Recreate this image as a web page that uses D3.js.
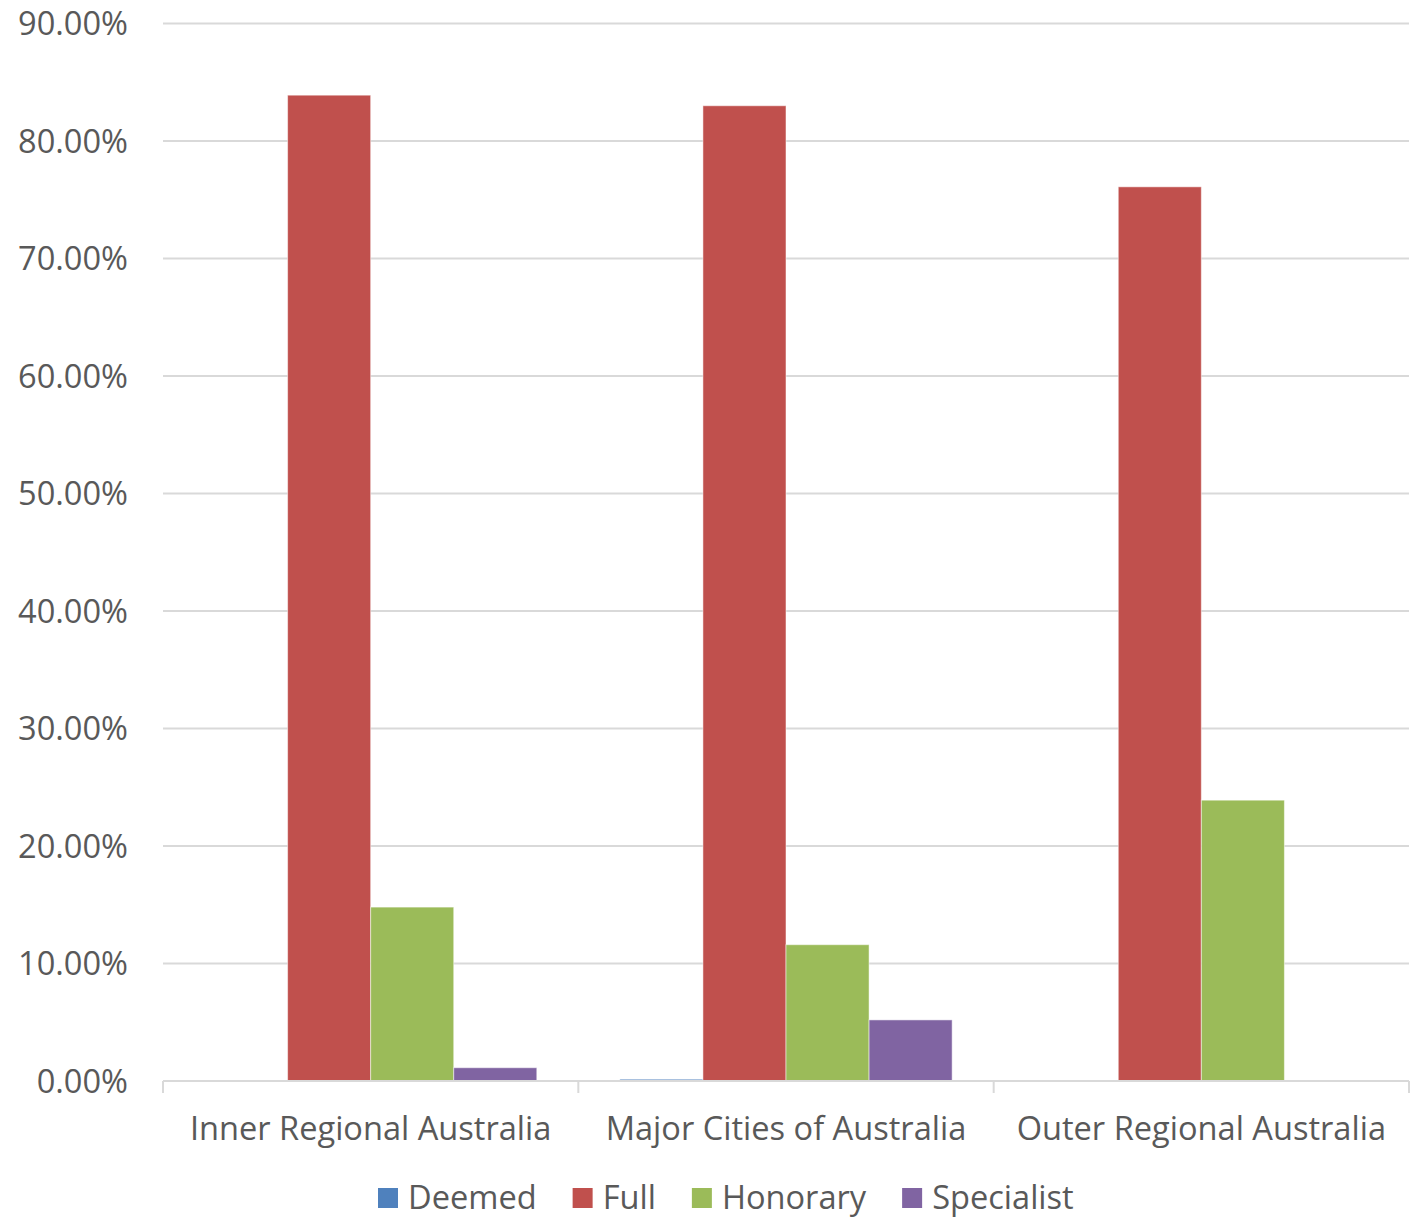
<!DOCTYPE html>
<html>
<head>
<meta charset="utf-8">
<script src="https://cdn.jsdelivr.net/npm/d3@7"></script>
<style>
  body { margin: 0; background: #fff; }
  svg { display: block; }
  text { font-family: "Open Sans", "Noto Sans", sans-serif; fill: #595959; }
</style>
</head>
<body>
<svg id="chart" width="1419" height="1218"></svg>
<script>
const categories = ["Inner Regional Australia", "Major Cities of Australia", "Outer Regional Australia"];
const seriesNames = ["Deemed", "Full", "Honorary", "Specialist"];
const seriesColors = ["#4f81bd", "#c0504d", "#9bbb59", "#8064a2"];
// share of each registration type per region (fraction)
const deemed     = [0,      0.0015, 0];
const full       = [0.839,  0.830,  0.761];
const honorary   = [0.148,  0.116,  0.239];
const specialist = [0.0113, 0.052,  0];
const yTicks = [0, 0.1, 0.2, 0.3, 0.4, 0.5, 0.6, 0.7, 0.8, 0.9];

const seriesValues = [deemed, full, honorary, specialist];
const fontSize = 32.6;

const svg = d3.select("#chart");
const plot = { left: 163, right: 1409, top: 23.5, bottom: 1081 };

const y = d3.scaleLinear().domain([0, 0.9]).range([plot.bottom, plot.top]);
const x0 = d3.scaleBand().domain(categories).range([plot.left, plot.right]).paddingInner(0).paddingOuter(0);
const x1 = d3.scaleBand().domain(seriesNames)
  .range([x0.bandwidth() * 0.1, x0.bandwidth() * 0.9]).padding(0);

// gridlines
svg.append("g").selectAll("line").data(yTicks.slice(1)).join("line")
  .attr("x1", plot.left).attr("x2", plot.right)
  .attr("y1", d => y(d)).attr("y2", d => y(d))
  .attr("stroke", "#d9d9d9").attr("stroke-width", 2);

// y axis labels
const yAxis = d3.axisLeft(y).tickValues(yTicks).tickFormat(d3.format(".2%")).tickSize(0).tickPadding(0);
const yg = svg.append("g").attr("transform", `translate(128,0)`).call(yAxis);
yg.select(".domain").remove();
yg.selectAll("text").attr("font-size", fontSize).attr("fill", "#595959")
  .style("font-family", '"Open Sans", sans-serif').attr("dy", "0.35em");

// bars
const rows = categories.map((c, i) => ({ cat: c, vals: seriesNames.map((s, j) => ({ s, j, v: seriesValues[j][i] })) }));
const groups = svg.append("g").selectAll("g").data(rows).join("g")
  .attr("transform", d => `translate(${x0(d.cat)},0)`);
groups.selectAll("rect").data(d => d.vals.filter(e => e.v > 0)).join("rect")
  .attr("x", d => x1(d.s))
  .attr("width", x1.bandwidth())
  .attr("y", d => y(d.v))
  .attr("height", d => y(0) - y(d.v))
  .attr("fill", d => seriesColors[d.j])
  .attr("stroke", "#ffffff").attr("stroke-opacity", 0.5).attr("stroke-width", 1);

// x axis
const xAxis = d3.axisBottom(x0).tickSize(0).tickPadding(0);
const xg = svg.append("g").attr("transform", `translate(0,${plot.bottom})`).call(xAxis);
xg.select(".domain").remove();
xg.selectAll("text").attr("font-size", fontSize).attr("fill", "#595959")
  .style("font-family", '"Open Sans", sans-serif').attr("y", 59).attr("dy", 0);
svg.append("line").attr("x1", plot.left).attr("x2", plot.right)
  .attr("y1", plot.bottom).attr("y2", plot.bottom)
  .attr("stroke", "#d9d9d9").attr("stroke-width", 2);
const boundaries = [plot.left, ...categories.map(c => x0(c) + x0.bandwidth())];
svg.append("g").selectAll("line").data(boundaries).join("line")
  .attr("x1", d => d).attr("x2", d => d)
  .attr("y1", plot.bottom).attr("y2", plot.bottom + 12)
  .attr("stroke", "#d9d9d9").attr("stroke-width", 2);

// legend
const legend = svg.append("g");
let lx = 378;
seriesNames.forEach((s, i) => {
  legend.append("rect").attr("x", lx).attr("y", 1188).attr("width", 20).attr("height", 20)
    .attr("fill", seriesColors[i]);
  const t = legend.append("text").attr("x", lx + 30).attr("y", 1209)
    .attr("font-size", fontSize).text(s);
  lx += 30 + t.node().getComputedTextLength() + 36;
});
</script>
</body>
</html>
